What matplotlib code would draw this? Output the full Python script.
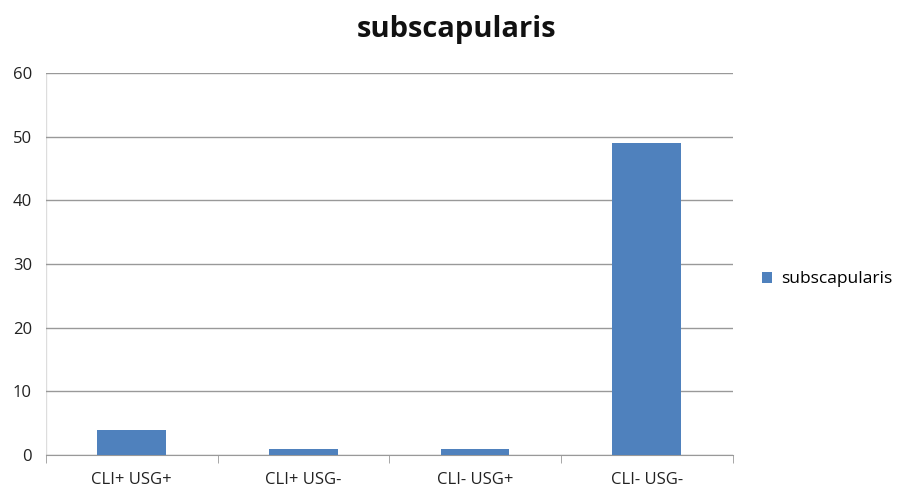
import matplotlib
matplotlib.use("Agg")
import matplotlib.pyplot as plt

categories = ["CLI+ USG+", "CLI+ USG-", "CLI- USG+", "CLI- USG-"]
values = [4, 1, 1, 49]
series_name = "subscapularis"
yticks = [0, 10, 20, 30, 40, 50, 60]

plt.rcParams['font.family'] = ['Open Sans', 'DejaVu Sans']

fig = plt.figure(figsize=(8.99, 4.91), dpi=100)
ax = fig.add_axes([0.051, 0.073, 0.764, 0.778])

x = list(range(len(categories)))
ax.bar(x, values, width=0.4, color="#4F81BD", label=series_name, zorder=3)
ax.set_xlim(-0.5, len(categories) - 0.5)
ax.set_ylim(0, 60)
ax.set_yticks(yticks)
ax.set_yticklabels([str(v) for v in yticks], fontsize=12, color="#222222")
ax.set_xticks(x)
ax.set_xticklabels(categories, fontsize=12, color="#222222")
ax.tick_params(axis='y', length=0, pad=10)
ax.tick_params(axis='x', length=0, pad=12)
# category boundary ticks
ax.set_xticks([i - 0.5 for i in range(len(categories) + 1)], minor=True)
ax.tick_params(axis='x', which='minor', length=6, color="#999999", direction='out')

ax.grid(axis='y', color="#999999", linewidth=1.0, zorder=0)
for s in ["top", "right", "left"]:
    ax.spines[s].set_visible(False)
ax.spines["bottom"].set_color("#999999")
ax.axvline(-0.5, color="#dddddd", linewidth=1.0, zorder=1)

fig.text(0.508, 0.94, "subscapularis", ha="center", va="center",
         fontsize=21, fontweight="bold", color="#111111")

leg = ax.legend(loc="center left", bbox_to_anchor=(1.02, 0.46), frameon=False,
                fontsize=12.5, handlelength=0.6, handleheight=0.6, handletextpad=0.5)

fig.savefig("out.png", dpi=100)
